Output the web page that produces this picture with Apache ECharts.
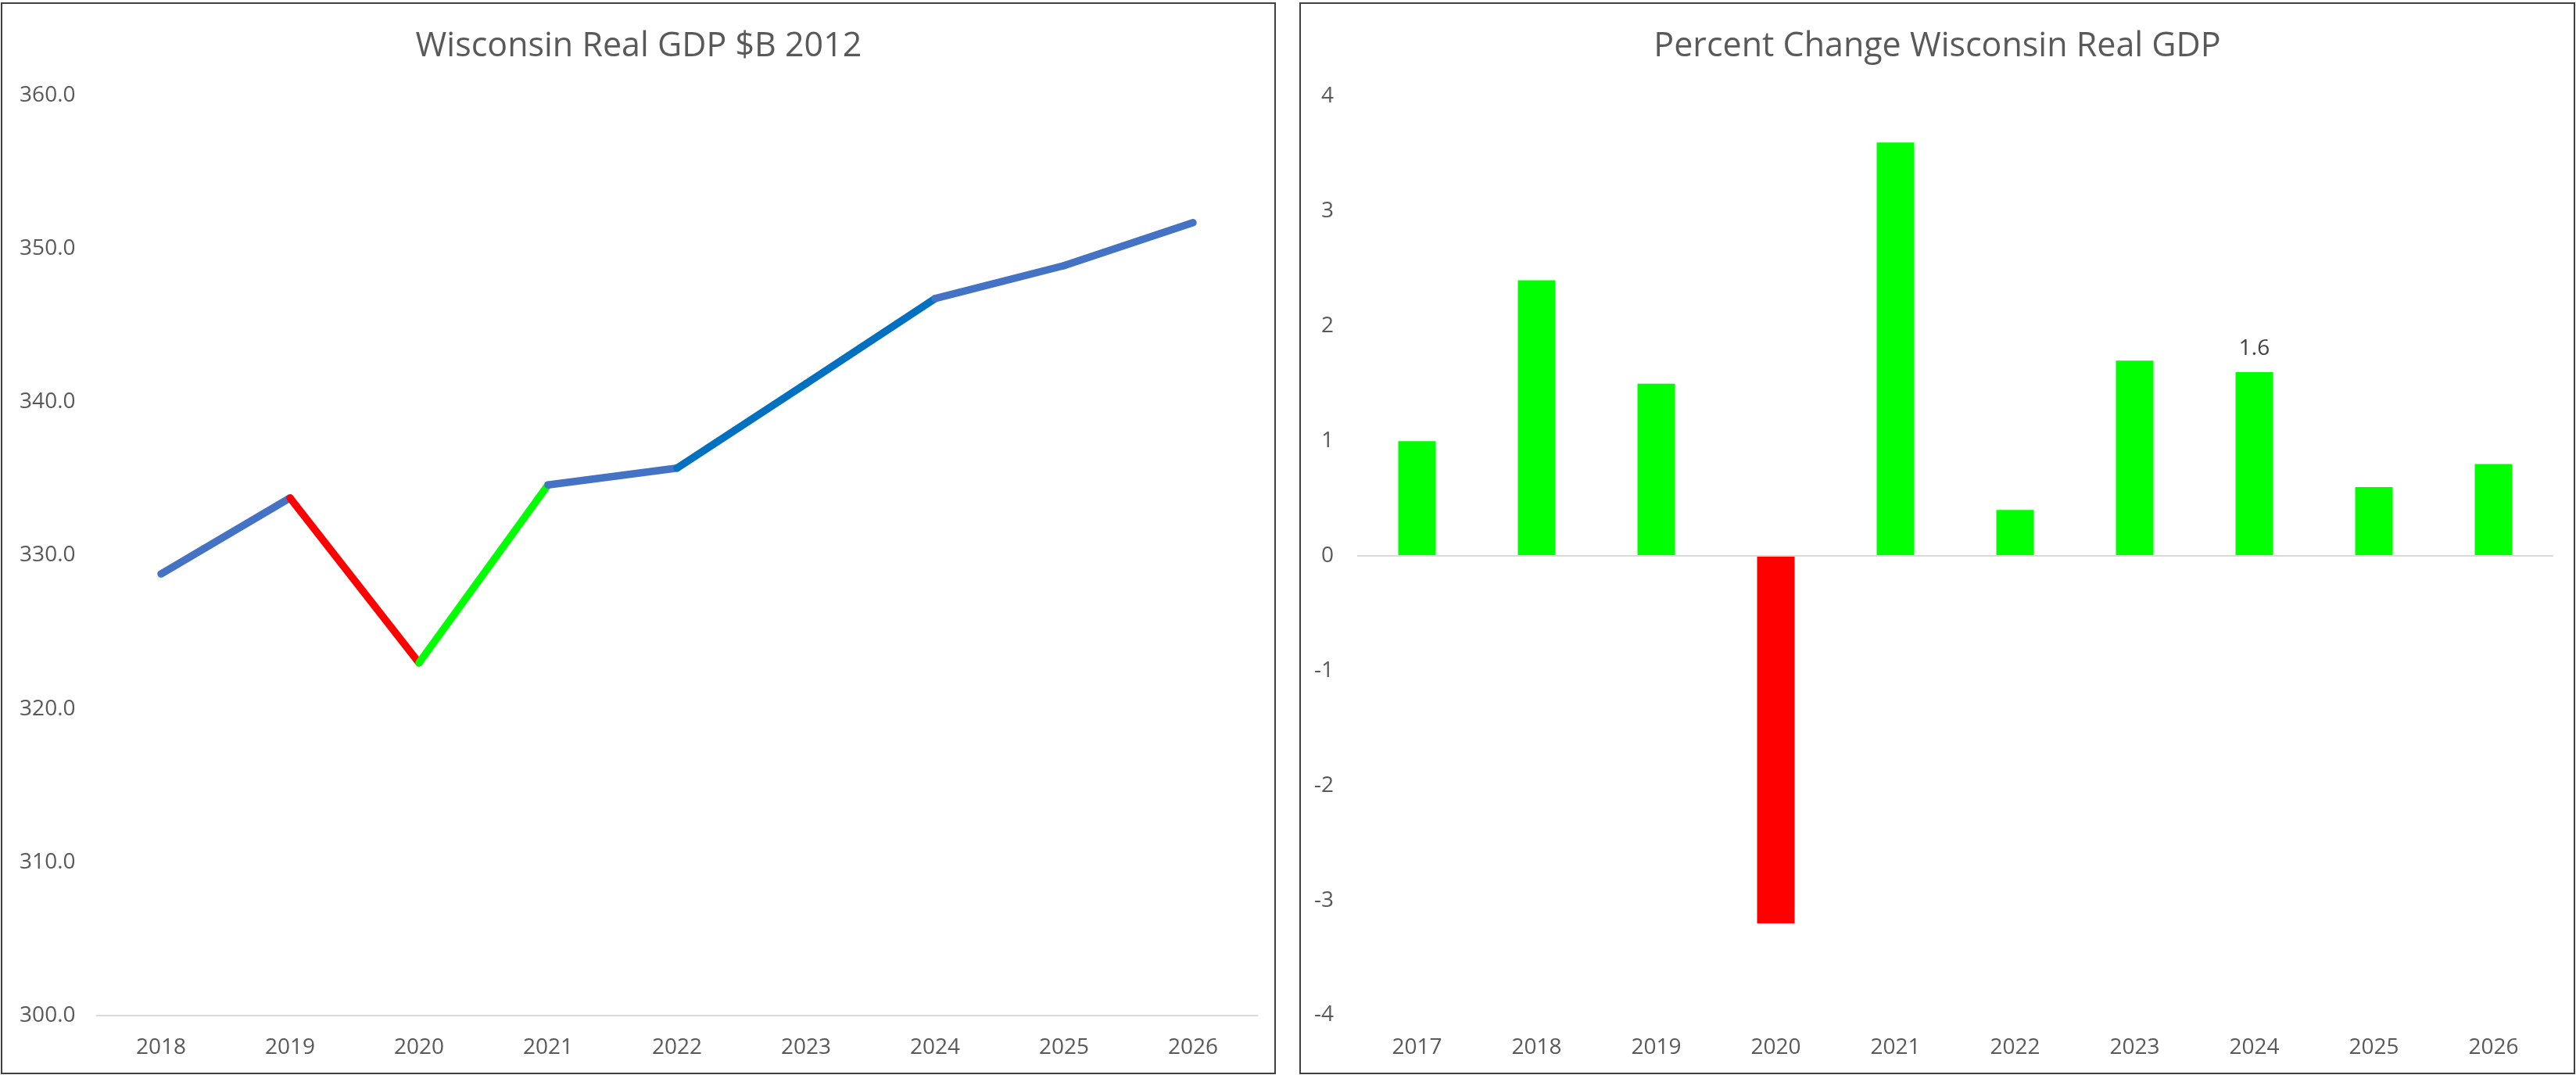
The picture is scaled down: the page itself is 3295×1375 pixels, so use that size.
<!DOCTYPE html>
<html>
<head>
<meta charset="utf-8">
<title>Wisconsin Real GDP</title>
<script src="https://cdn.jsdelivr.net/npm/echarts@6/dist/echarts.min.js"></script>
<style>
    html, body { margin: 0; padding: 0; background: #ffffff; }
    #chart { width: 3295px; height: 1375px; }
</style>
</head>
<body>
<div id="chart"></div>
<script>
// left chart: level of real GDP ($B, 2012 dollars)
var gdpYears = ['2018', '2019', '2020', '2021', '2022', '2023', '2024', '2025', '2026'];
var gdpValues = [328.8, 333.75, 323.0, 334.6, 335.7, 341.2, 346.75, 348.9, 351.7];
var gdpTicks = [300, 310, 320, 330, 340, 350, 360];

// right chart: percent change
var pctYears = ['2017', '2018', '2019', '2020', '2021', '2022', '2023', '2024', '2025', '2026'];
var pctValues = [1.0, 2.4, 1.5, -3.2, 3.6, 0.4, 1.7, 1.6, 0.6, 0.8];
var pctTicks = [-4, -3, -2, -1, 0, 1, 2, 3, 4];
var pctLabelled = ['2024'];

// one colour per line segment (segment i joins point i and i+1)
var segmentColors = ['#4472C4', '#FF0000', '#00FF00', '#4472C4', '#0070C0', '#0070C0', '#4472C4', '#4472C4'];

var FONT = '"Open Sans", "Noto Sans", sans-serif';
var TEXT_COLOR = '#595959';
var GRID_COLOR = '#D9D9D9';

var chartDom = document.getElementById('chart');
var myChart = echarts.init(chartDom, null, { renderer: 'canvas' });

// build the coloured line pieces, each one only holds its two end points
var lineSeries = [];
for (var i = 0; i < gdpValues.length - 1; i++) {
    var segData = gdpValues.map(function (v, j) {
        return (j === i || j === i + 1) ? v : '-';
    });
    lineSeries.push({
        type: 'line',
        xAxisIndex: 0,
        yAxisIndex: 0,
        data: segData,
        showSymbol: false,
        connectNulls: false,
        silent: true,
        animation: false,
        z: 10 + i,
        lineStyle: {
            color: segmentColors[i],
            width: 9.5,
            cap: 'round',
            join: 'round'
        }
    });
}

var barData = pctValues.map(function (v, j) {
    var item = {
        value: v,
        itemStyle: { color: v < 0 ? '#FF0000' : '#00FF00' }
    };
    if (pctLabelled.indexOf(pctYears[j]) >= 0) {
        item.label = { show: true };
    }
    return item;
});

var option = {
    backgroundColor: '#ffffff',
    animation: false,
    textStyle: { fontFamily: FONT },
    title: [{
        text: 'Wisconsin Real GDP $B 2012',
        left: 817,
        top: 38,
        textAlign: 'center',
        padding: 0,
        textStyle: { fontFamily: FONT, fontSize: 43, fontWeight: 'normal', color: TEXT_COLOR }
    }, {
        text: 'Percent Change Wisconsin Real GDP',
        left: 2478,
        top: 38,
        textAlign: 'center',
        padding: 0,
        textStyle: { fontFamily: FONT, fontSize: 43, fontWeight: 'normal', color: TEXT_COLOR }
    }],
    grid: [{
        left: 123.5,
        top: 122,
        width: 1485,
        height: 1177
    }, {
        left: 1736,
        top: 123.5,
        width: 1530,
        height: 1175
    }],
    xAxis: [{
        type: 'category',
        gridIndex: 0,
        data: gdpYears,
        boundaryGap: true,
        axisLine: { show: true, lineStyle: { color: GRID_COLOR, width: 2 } },
        axisTick: { show: false },
        axisLabel: { fontFamily: FONT, fontSize: 28, color: TEXT_COLOR, margin: 27 }
    }, {
        type: 'category',
        gridIndex: 1,
        data: pctYears,
        boundaryGap: true,
        axisLine: { show: false, onZero: false },
        axisTick: { show: false },
        axisLabel: { fontFamily: FONT, fontSize: 28, color: TEXT_COLOR, margin: 28 }
    }],
    yAxis: [{
        type: 'value',
        gridIndex: 0,
        min: gdpTicks[0],
        max: gdpTicks[gdpTicks.length - 1],
        interval: gdpTicks[1] - gdpTicks[0],
        axisLine: { show: false },
        axisTick: { show: false },
        splitLine: { show: false },
        axisLabel: {
            fontFamily: FONT, fontSize: 28, color: TEXT_COLOR, margin: 27,
            formatter: function (v) { return v.toFixed(1); }
        }
    }, {
        type: 'value',
        gridIndex: 1,
        min: pctTicks[0],
        max: pctTicks[pctTicks.length - 1],
        interval: pctTicks[1] - pctTicks[0],
        axisLine: { show: false },
        axisTick: { show: false },
        splitLine: { show: false },
        axisLabel: { fontFamily: FONT, fontSize: 28, color: TEXT_COLOR, margin: 30 }
    }],
    series: lineSeries.concat([{
        type: 'bar',
        xAxisIndex: 1,
        yAxisIndex: 1,
        data: barData,
        barWidth: 48,
        silent: true,
        label: {
            show: false,
            position: 'top',
            distance: 16,
            fontFamily: FONT,
            fontSize: 28,
            color: '#404040'
        },
        markLine: {
            silent: true,
            symbol: ['none', 'none'],
            label: { show: false },
            lineStyle: { color: GRID_COLOR, type: 'solid', width: 2 },
            data: [{ yAxis: 0 }]
        }
    }]),
    // the two framed chart panels
    graphic: [{
        type: 'rect',
        shape: { x: 2, y: 4, width: 1629, height: 1369 },
        style: { fill: 'none', stroke: '#404040', lineWidth: 2 },
        silent: true
    }, {
        type: 'rect',
        shape: { x: 1663, y: 4, width: 1630, height: 1369 },
        style: { fill: 'none', stroke: '#404040', lineWidth: 2 },
        silent: true
    }]
};

option && myChart.setOption(option);
</script>
</body>
</html>
